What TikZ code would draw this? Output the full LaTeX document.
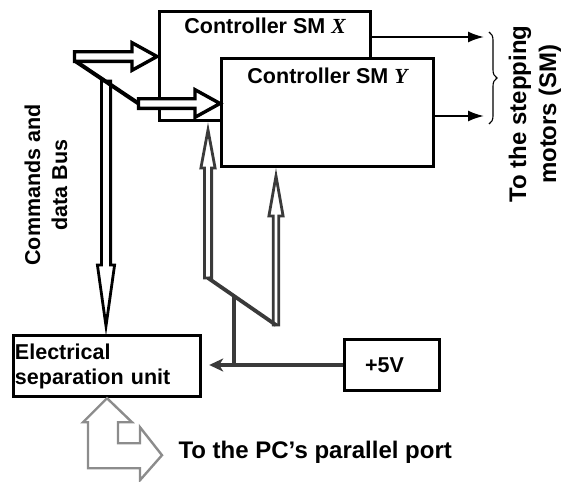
\documentclass[tikz,border=0pt]{standalone}
\usepackage{fontspec}
\setmainfont{Liberation Sans}
\newfontfamily\timesfont{Liberation Serif}
\usetikzlibrary{arrows.meta,positioning,calc,decorations.pathreplacing}
\definecolor{ctrlgray}{RGB}{58,58,58}
\definecolor{pcgray}{RGB}{140,140,140}
\newcommand{\smaxis}[1]{{\timesfont\itshape #1}}
% hollow arrow: [style]{start}{angle}{length}{shaft half}{head half}{head length}
\newcommand{\hollowarrow}[7][]{%
  \draw[#1, shift={(#2)}, rotate=#3]
    (0,-#5) -- ({#4-#7},-#5) -- ({#4-#7},-#6) -- (#4,0)
    -- ({#4-#7},#6) -- ({#4-#7},#5) -- (0,#5) -- cycle;}
\tikzset{
  unitbox/.style={draw, line width=3.4pt, fill=white, inner sep=0pt},
  lbl/.style={font=\fontsize{21.5}{25}\selectfont\bfseries},
  biglbl/.style={font=\fontsize{24}{30}\selectfont\bfseries},
  busarr/.style={draw=black, fill=white, line width=3.4pt},
  busline/.style={black, line width=4pt},
  ctrlarr/.style={draw=ctrlgray, fill=white, line width=2.8pt},
  ctrlline/.style={ctrlgray, line width=3.8pt},
  pwrarr/.style={-{Stealth[length=14pt, width=13pt, inset=4pt]}, ctrlgray, line width=3.8pt},
  outarr/.style={-{Latex[length=16pt, width=11pt]}, line width=2pt},
  motorbrace/.style={decorate, decoration={brace, amplitude=8pt}, line width=1.1pt},
  pcarr/.style={draw=pcgray, fill=white, line width=2.4pt},
}
\begin{document}
\begin{tikzpicture}[x=1pt, y=-1pt]
  \useasboundingbox (0,0) rectangle (566,482);
  % the two controllers
  \node[unitbox, minimum width=211pt, minimum height=109pt] (boxX) at (265,66) {};
  \node[lbl, anchor=base] (xlbl) at (265,33) {Controller SM \smaxis{X}};
  \node[unitbox, minimum width=212pt, minimum height=108pt] (boxY) at (327.5,112.5) {};
  \node[lbl, anchor=base] (ylbl) at (327.5,83) {Controller SM \smaxis{Y}};
  % outputs to the motors
  \coordinate (smX) at (484,37);
  \coordinate (smY) at (484,116);
  \draw[outarr] (boxX.east |- smX) -- (smX);
  \draw[outarr] (boxY.east |- smY) -- (smY);
  \draw[motorbrace] ([xshift=5pt,yshift=5pt]smX) -- ([xshift=5pt,yshift=-8pt]smY);
  \node[biglbl, rotate=90, align=center] (smlbl) at (535,114) {To the stepping\\motors (SM)};
  % commands and data bus
  \node[lbl, rotate=90, align=center, font=\fontsize{21.5}{27}\selectfont\bfseries] (buslbl) at (46,185) {Commands and\\data Bus};
  \coordinate (busX) at (74.5,56.5);
  \coordinate (busY) at (138.5,103.5);
  \coordinate (busDn) at (106,81);
  \hollowarrow[busarr, line width=2.8pt]{busDn}{-90}{245}{4.6}{8.6}{61}
  \draw[busline] ([yshift=-4pt]busX) -- (busY);
  \hollowarrow[busarr]{busX}{0}{82.5}{4.8}{13.8}{25}
  \hollowarrow[busarr]{busY}{0}{81.5}{4.8}{13.8}{25}
  % separation unit and supply
  \node[unitbox, lbl, minimum width=187pt, minimum height=61pt, text width=184pt, align=left] (unit) at (107,366) {Electrical\\separation unit};
  \node[unitbox, lbl, minimum width=95pt, minimum height=51pt, text width=54pt, align=left] (pwr) at (392,365) {+5V};
  \coordinate (clkX) at (208,278);
  \coordinate (clkY) at (276,325);
  \coordinate (tap) at (234,296);
  \hollowarrow[ctrlarr]{clkX}{90}{148}{3.6}{7.1}{38}
  \hollowarrow[ctrlarr]{clkY}{90}{149}{2.7}{7.1}{40}
  \draw[ctrlline] (clkX) -- (clkY);
  \draw[ctrlline] (tap) -- (tap |- pwr.west);
  \draw[pwrarr, shorten >=7pt] (pwr.west) -- (pwr.west -| unit.east);
  % PC parallel port
  \draw[pcarr] (unit.south) -- ++(25,24) -- ++(-14,0) -- ++(0,21) -- ++(22,0) -- ++(0,-16)
    -- ++(22,28) -- ++(-22,25) -- ++(0,-12) -- ++(-52,0) -- ++(0,-46) -- ++(-5,0) -- cycle;
  \node[biglbl, anchor=base west] (pclbl) at (175,458) {To the PC's parallel port};
\end{tikzpicture}
\end{document}
